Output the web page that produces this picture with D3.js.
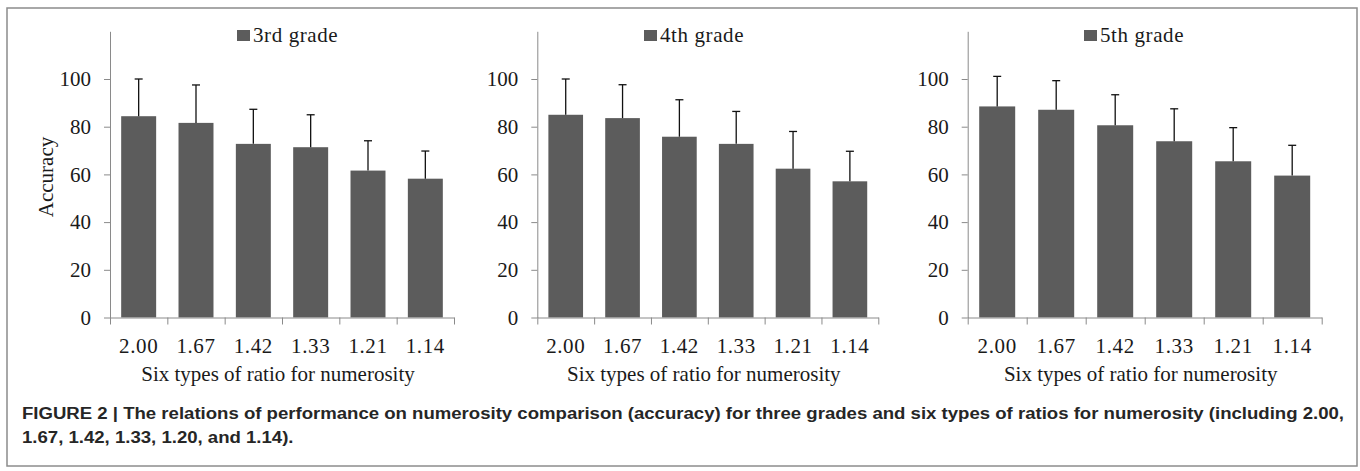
<!DOCTYPE html>
<html><head><meta charset="utf-8">
<script src="https://cdn.jsdelivr.net/npm/d3@7"></script>
<style>
html,body{margin:0;padding:0;background:#fff;}
svg{display:block;}
</style></head>
<body>
<svg id="chart" width="1360" height="471"></svg>
<script>
// ---- data ----
const categories = ["2.00", "1.67", "1.42", "1.33", "1.21", "1.14"];
const grades = ["3rd grade", "4th grade", "5th grade"];
const means3 = [84.4, 81.6, 72.8, 71.4, 61.6, 58.2];
const errors3 = [15.6, 15.9, 14.5, 13.6, 12.5, 11.6];
const means4 = [85.0, 83.6, 75.8, 72.8, 62.4, 57.1];
const errors4 = [15.0, 14.0, 15.5, 13.6, 15.6, 12.6];
const means5 = [88.5, 87.1, 80.6, 73.9, 65.5, 59.5];
const errors5 = [12.6, 12.2, 12.8, 13.6, 14.1, 12.7];
const yTicks = [0, 20, 40, 60, 80, 100];
const yMax = 120;
const xTitle = "Six types of ratio for numerosity";
const yTitle = "Accuracy";
const captionLines = [
  "FIGURE 2 | The relations of performance on numerosity comparison (accuracy) for three grades and six types of ratios for numerosity (including 2.00,",
  "1.67, 1.42, 1.33, 1.20, and 1.14)."
];

// ---- layout (positions/styles) ----
const panels = [
  {x0: 110, x1: 454, legendX: 237},
  {x0: 537.3, x1: 878.3, legendX: 644},
  {x0: 967.7, x1: 1321.7, legendX: 1084}
];
const yZero = 317.5, yPerUnit = 2.385;
const barColor = "#5c5c5c", axisColor = "#8a8a8a", textColor = "#1a1a1a";
const serif = "'Liberation Serif','Times New Roman',serif";
const fs = 21;

const series = [
  {name: grades[0], means: means3, errors: errors3},
  {name: grades[1], means: means4, errors: errors4},
  {name: grades[2], means: means5, errors: errors5}
];

const svg = d3.select("#chart");

// frame
svg.append("rect").attr("x", 7).attr("y", 8).attr("width", 1350).attr("height", 458)
  .attr("fill", "none").attr("stroke", "#8c8c8c").attr("stroke-width", 1.5);

series.forEach((s, i) => {
  const p = panels[i];
  const g = svg.append("g");
  const y = d3.scaleLinear().domain([0, yMax]).range([yZero, yZero - yMax * yPerUnit]);
  const x = d3.scaleBand().domain(categories).range([p.x0, p.x1])
    .paddingInner(0.39).paddingOuter(0.195);
  const xIdx = d3.scaleLinear().domain([0, categories.length]).range([p.x0, p.x1]);

  // y axis
  const ya = g.append("g").attr("transform", `translate(${p.x0},0)`)
    .call(d3.axisLeft(y).tickValues(yTicks).tickSize(6).tickPadding(13).tickSizeOuter(0));
  ya.select(".domain").attr("stroke", axisColor);
  ya.selectAll(".tick line").attr("stroke", axisColor);
  ya.selectAll(".tick text").attr("font-family", serif).attr("font-size", fs).attr("fill", textColor);

  // bars
  g.selectAll("rect.bar").data(s.means).join("rect").attr("class", "bar")
    .attr("x", (d, j) => x(categories[j])).attr("width", x.bandwidth())
    .attr("y", d => y(d)).attr("height", d => y(0) - y(d)).attr("fill", barColor);

  // error bars (upper only)
  const eb = g.selectAll("g.err").data(s.means).join("g").attr("class", "err");
  eb.append("line")
    .attr("x1", (d, j) => x(categories[j]) + x.bandwidth() / 2)
    .attr("x2", (d, j) => x(categories[j]) + x.bandwidth() / 2)
    .attr("y1", d => y(d)).attr("y2", (d, j) => y(d + s.errors[j]))
    .attr("stroke", "#111").attr("stroke-width", 1.3);
  eb.append("line")
    .attr("x1", (d, j) => x(categories[j]) + x.bandwidth() / 2 - 4)
    .attr("x2", (d, j) => x(categories[j]) + x.bandwidth() / 2 + 4)
    .attr("y1", (d, j) => y(d + s.errors[j])).attr("y2", (d, j) => y(d + s.errors[j]))
    .attr("stroke", "#111").attr("stroke-width", 1.3);

  // x axis: boundary ticks
  const xa = g.append("g").attr("transform", `translate(0,${yZero})`)
    .call(d3.axisBottom(xIdx).tickValues(d3.range(categories.length + 1)).tickSize(7).tickFormat("").tickSizeOuter(0));
  xa.select(".domain").attr("stroke", axisColor);
  xa.selectAll(".tick line").attr("stroke", axisColor);
  // x labels
  const xl = g.append("g").attr("transform", `translate(0,${yZero})`)
    .call(d3.axisBottom(x).tickSize(0).tickPadding(21));
  xl.select(".domain").remove();
  xl.selectAll(".tick text").attr("font-family", serif).attr("font-size", fs)
    .attr("letter-spacing", 0.6).attr("fill", textColor);

  // x title
  g.append("text").attr("x", (p.x0 + p.x1) / 2 - 4).attr("y", yZero + 63)
    .attr("text-anchor", "middle").attr("font-family", serif).attr("font-size", fs)
    .attr("fill", textColor).text(xTitle);

  // legend
  g.append("rect").attr("x", p.legendX).attr("y", 30).attr("width", 13).attr("height", 11).attr("fill", barColor);
  g.append("text").attr("x", p.legendX + 16).attr("y", 42).attr("font-family", serif)
    .attr("font-size", fs).attr("letter-spacing", 0.6).attr("fill", textColor).text(s.name);

  if (i === 0) {
    g.append("text").attr("transform", `translate(53,177) rotate(-90)`)
      .attr("text-anchor", "middle").attr("font-family", serif).attr("font-size", fs)
      .attr("fill", textColor).text(yTitle);
  }
});

// caption
const cap = svg.append("g");
const capFont = "'Liberation Sans Narrow','Arial Narrow','Liberation Sans',Arial,sans-serif";
const t1 = cap.append("text").attr("x", 22).attr("y", 419).attr("font-family", capFont)
  .attr("font-weight", "bold").attr("font-size", 17).attr("fill", "#262626").text(captionLines[0]);
const natural = t1.node().getComputedTextLength();
const sx = 1323 / natural;
t1.attr("transform", `translate(22,0) scale(${sx},1) translate(-22,0)`);
cap.append("text").attr("x", 22).attr("y", 443).attr("font-family", capFont)
  .attr("font-weight", "bold").attr("font-size", 17).attr("fill", "#262626")
  .attr("transform", `translate(22,0) scale(${sx},1) translate(-22,0)`).text(captionLines[1]);
</script>
</body></html>
